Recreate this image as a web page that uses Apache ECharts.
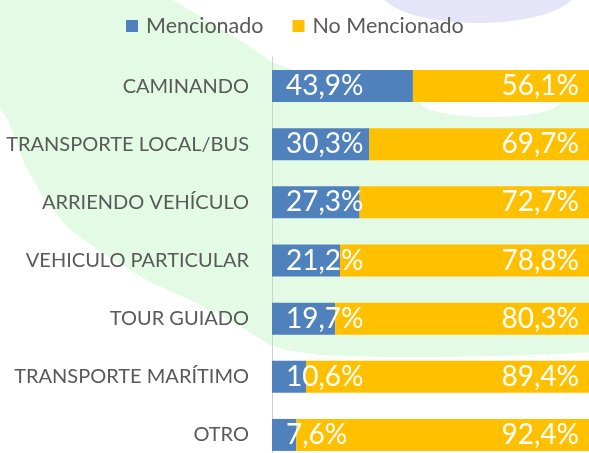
<!DOCTYPE html>
<html>
<head>
<meta charset="utf-8">
<script src="https://cdn.jsdelivr.net/npm/echarts@6/dist/echarts.min.js"></script>
<style>
html,body{margin:0;padding:0;background:#ffffff;}
#chart{width:589px;height:453px;}
</style>
</head>
<body>
<div id="chart"></div>
<script>
const categories = ["CAMINANDO","TRANSPORTE LOCAL/BUS","ARRIENDO VEHÍCULO","VEHICULO PARTICULAR","TOUR GUIADO","TRANSPORTE MARÍTIMO","OTRO"];
const seriesNames = ["Mencionado","No Mencionado"];
const mencionado = [43.9,30.3,27.3,21.2,19.7,10.6,7.6];
const noMencionado = [56.1,69.7,72.7,78.8,80.3,89.4,92.4];

const FONT = 'Lato';
const fmt = p => p.value.toFixed(1).replace('.', ',') + '%';

const chart = echarts.init(document.getElementById('chart'), null, {renderer:'canvas'});
chart.setOption({
  animation:false,
  backgroundColor:'#ffffff',
  textStyle:{fontFamily:FONT},
  graphic:{
    elements:[
      {type:'polygon', z:-10, silent:true,
       shape:{points:[[0,0],[173,0],[215,25],[250,47],[272,62],[300,72],[589,72],[589,352],
         [560,354],[500,356],[440,357],[380,357],[320,355],[285,350],[270,345],[230,320],[190,300],
         [150,282],[110,258],[70,230],[45,200],[25,165],[8,120],[0,108]]},
       style:{fill:'#e3fbe5'}},
      {type:'ellipse', z:-9, silent:true,
       shape:{cx:490, cy:102, rx:70, ry:15},
       style:{fill:'#ffffff'}},
      {type:'ellipse', z:-10, silent:true,
       shape:{cx:478, cy:-10, rx:98, ry:33},
       style:{fill:'#e5e5fa'}}
    ]
  },
  legend:{
    data:seriesNames,
    left:126, top:15, padding:0,
    icon:'rect', itemWidth:12, itemHeight:12, itemGap:29,
    textStyle:{color:'#595959', fontSize:21.5, fontFamily:FONT, padding:[0,0,0,3]}
  },
  grid:{left:272, top:57, width:321, height:407, containLabel:false, outerBoundsMode:'none'},
  xAxis:{type:'value', min:0, max:100, show:false},
  yAxis:{
    type:'category', data:categories, inverse:true,
    axisLine:{show:true, lineStyle:{color:'#d0d0d0', width:1}},
    axisTick:{show:false},
    axisLabel:{color:'#595959', fontSize:20, fontFamily:FONT, margin:23}
  },
  series:[
    {name:seriesNames[0], type:'bar', stack:'total', data:mencionado, barWidth:32,
     itemStyle:{color:'#4f81bd'},
     label:{show:true, position:'insideLeft', distance:14, color:'#ffffff', fontSize:28, fontFamily:FONT, formatter:fmt}},
    {name:seriesNames[1], type:'bar', stack:'total', data:noMencionado, barWidth:32,
     itemStyle:{color:'#ffc000'},
     label:{show:true, position:'insideRight', distance:14, color:'#ffffff', fontSize:28, fontFamily:FONT, formatter:fmt}}
  ]
});
</script>
</body>
</html>
